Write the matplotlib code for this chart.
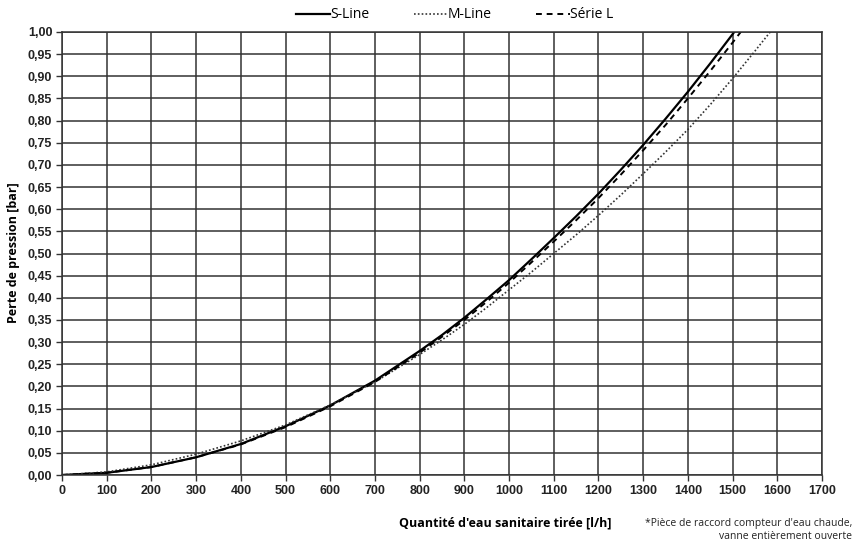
import matplotlib
matplotlib.use("Agg")
import matplotlib.pyplot as plt

flow = [0, 100, 200, 300, 400, 500, 600, 700, 800, 850, 900, 950, 1000, 1050, 1100, 1150,
        1200, 1250, 1300, 1350, 1400, 1450, 1500, 1550]
s_line = [0, 0.005, 0.018, 0.040, 0.070, 0.110, 0.157, 0.213, 0.280, 0.316, 0.355, 0.397,
          0.440, 0.487, 0.535, 0.584, 0.635, 0.689, 0.745, 0.804, 0.865, 0.929, 0.995, 1.063]
m_line = [0, 0.007, 0.023, 0.047, 0.077, 0.113, 0.158, 0.210, 0.272, 0.305, 0.340, 0.378,
          0.418, 0.458, 0.500, 0.542, 0.586, 0.632, 0.680, 0.729, 0.780, 0.836, 0.895, 0.957]
serie_l = [0, 0.005, 0.018, 0.040, 0.069, 0.108, 0.155, 0.210, 0.276, 0.312, 0.350, 0.391,
           0.434, 0.480, 0.527, 0.575, 0.625, 0.678, 0.733, 0.790, 0.850, 0.912, 0.976, 1.042]
m_ext_x = [1600]
m_ext_y = [1.020]

xticks = list(range(0, 1701, 100))
yticks = [i * 0.05 for i in range(21)]
ytick_labels = [f"{v:.2f}".replace(".", ",") for v in yticks]

fig = plt.figure(figsize=(8.55, 5.46), dpi=100)
ax = fig.add_axes([62/855, 1-475/546, (822-62)/855, (475-32)/546])

ax.plot(flow, s_line, color="black", lw=1.6, label="S-Line")
ax.plot(flow + m_ext_x, m_line + m_ext_y, color="#333333", lw=1.2,
        linestyle=(0, (1, 1.3)), label="M-Line")
ax.plot(flow, serie_l, color="black", lw=1.4, linestyle=(0, (3, 2.5)), label="Série L")

ax.set_xlim(0, 1700)
ax.set_ylim(0, 1.0)
ax.set_xticks(xticks)
ax.set_yticks(yticks)
ax.set_yticklabels(ytick_labels)
ax.grid(True, color="#333333", lw=1.1)
ax.set_axisbelow(True)
for sp in ax.spines.values():
    sp.set_color("#333333")
    sp.set_linewidth(1.1)
ax.tick_params(axis="both", length=4, width=1.0, color="#333333", labelsize=9,
               labelcolor="#222222", pad=3)
for lbl in ax.get_xticklabels() + ax.get_yticklabels():
    lbl.set_fontfamily("Liberation Sans")
    lbl.set_fontweight("bold")

fig.text(14/855, 1-253/546, "Perte de pression [bar]", rotation=90, ha="center", va="center",
         fontsize=9, fontweight="bold", family="Open Sans")
fig.text(505/855, 1-523/546, "Quantité d'eau sanitaire tirée [l/h]", ha="center", va="center",
         fontsize=9, fontweight="bold", family="Open Sans")
fig.text(852/855, 1-530/546, "*Pièce de raccord compteur d'eau chaude,\nvanne entièrement ouverte",
         ha="right", va="center", fontsize=7.5, family="Open Sans", linespacing=1.15, color="#222222")

leg = fig.legend(loc="center", bbox_to_anchor=(455/855, 1-15/546), ncol=3, frameon=False,
                 prop={"family": "Open Sans", "size": 10}, handlelength=2.4, handletextpad=0.05,
                 columnspacing=3.2)

fig.savefig("out.png", dpi=100)
